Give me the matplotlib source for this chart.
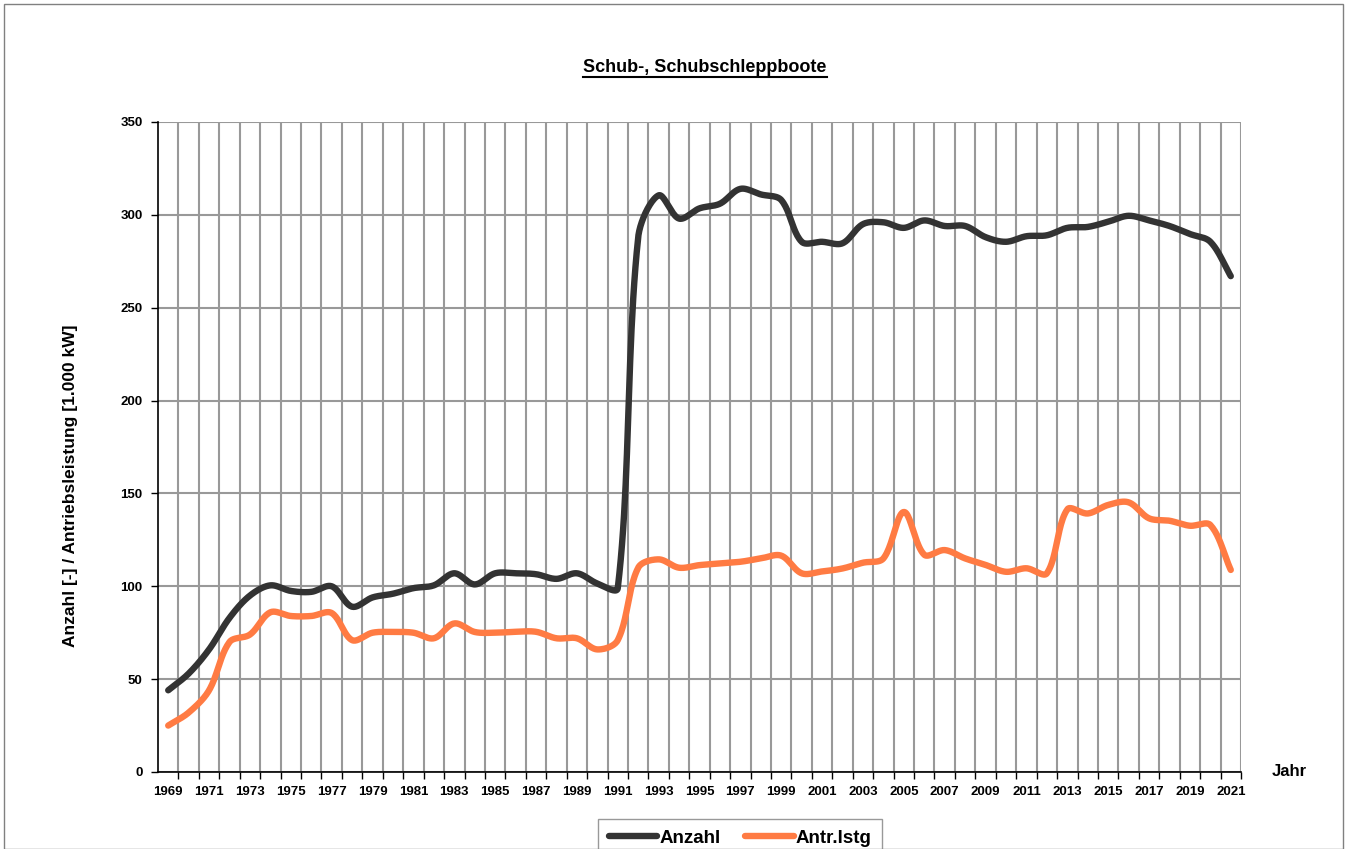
import matplotlib
matplotlib.use('Agg')
import matplotlib.pyplot as plt
from matplotlib.lines import Line2D
from matplotlib.patches import Rectangle
import numpy as np

plt.rcParams['font.family'] = ['Liberation Sans', 'DejaVu Sans']
plt.rcParams['font.weight'] = 'bold'

years = list(range(1969, 2022))
anzahl = [44, 53, 66, 83, 95, 100.5, 97.5, 97, 100, 89, 94, 96, 99, 100.5, 107, 101,
          107, 107, 106.5, 104, 107, 101.5, 99, 288, 310.5, 298, 303.5, 306, 314, 311,
          308, 285.5, 285.5, 284.7, 295, 296, 293, 297, 294, 294, 288, 285.5, 288.5,
          289, 293, 293.5, 296.3, 299.5, 297, 294, 289.7, 285.5, 267]
antr_lstg = [25, 32, 44, 70, 74, 86, 84, 84, 85.6, 71, 75, 75.4, 75, 72, 80, 75.4,
             75, 75.5, 75.5, 72, 72, 66, 71, 110, 114.5, 110, 111.4, 112.3, 113.2, 115,
             116.5, 107, 108, 109.6, 112.7, 115, 140, 117, 119.5, 115, 111.5, 107.8,
             109.7, 107, 141.4, 139.2, 143.8, 145.2, 136.6, 135.3, 132.6, 133, 108.8]

# pixel scale of the axes, used so the smoothing looks like Excel's
XPX = 1083 / 53.0
YPX = 650 / 350.0


def smooth(x, y, n=24):
    # Bezier smoothing, handle lengths weighted by neighbouring segment lengths
    x = np.asarray(x, float)
    y = np.asarray(y, float)
    px = np.concatenate([[x[0]], x, [x[-1]]])
    py = np.concatenate([[y[0]], y, [y[-1]]])
    d = np.hypot(np.diff(px) * XPX, np.diff(py) * YPX)
    t = np.linspace(0, 1, n)
    xs, ys = [], []
    for i in range(1, len(px) - 2):
        d01, d12, d23 = d[i - 1], d[i], d[i + 1]
        f1 = d12 / (d01 + d12) / 3 if d01 + d12 > 0 else 0
        f2 = d12 / (d12 + d23) / 3 if d12 + d23 > 0 else 0
        c1x = px[i] + (px[i + 1] - px[i - 1]) * f1
        c1y = py[i] + (py[i + 1] - py[i - 1]) * f1
        c2x = px[i + 1] - (px[i + 2] - px[i]) * f2
        c2y = py[i + 1] - (py[i + 2] - py[i]) * f2
        a, b, c, e = (1 - t) ** 3, 3 * (1 - t) ** 2 * t, 3 * (1 - t) * t ** 2, t ** 3
        xs.append(a * px[i] + b * c1x + c * c2x + e * px[i + 1])
        ys.append(a * py[i] + b * c1y + c * c2y + e * py[i + 1])
    return np.concatenate(xs), np.concatenate(ys)


fig = plt.figure(figsize=(13.48, 8.49), dpi=100)
ax = fig.add_axes([158 / 1348, 77 / 849, 1083 / 1348, 650 / 849])

sx, sy = smooth(years, anzahl)
ax.plot(sx, sy, color='#333333', lw=4.6, solid_capstyle='round', zorder=3, label='Anzahl')
sx, sy = smooth(years, antr_lstg)
ax.plot(sx, sy, color='#FF7B43', lw=4.6, solid_capstyle='round', zorder=3, label='Antr.lstg')

ax.set_xlim(1968.5, 2021.5)
ax.set_ylim(0, 350)
ax.set_yticks(range(0, 351, 50))
ax.set_xticks(years[::2])
ax.set_xticks([y + 0.5 for y in years], minor=True)
ax.tick_params(axis='x', which='major', length=0, pad=10, labelsize=9.5)
ax.tick_params(axis='x', which='minor', length=5, width=1, color='black')
ax.tick_params(axis='y', length=5, width=1, pad=6, labelsize=9.5)
ax.grid(True, axis='y', color='#999999', lw=1.5, zorder=1)
ax.grid(True, axis='x', which='minor', color='#999999', lw=1.5, zorder=1)
ax.set_axisbelow(True)
ax.spines['top'].set_visible(False)
ax.spines['right'].set_visible(False)
ax.spines['left'].set_linewidth(1.2)
ax.spines['bottom'].set_linewidth(1.2)

ax.set_ylabel('Anzahl [-] / Antriebsleistung [1.000 kW]', fontsize=12.5, fontweight='bold')
ax.yaxis.set_label_coords(-0.074, 0.44)
fig.text(1289 / 1348, 1 - 772 / 849, 'Jahr', fontsize=12, fontweight='bold', ha='center', va='center')

title = fig.text(705 / 1348, 1 - 67 / 849, 'Schub-, Schubschleppboote', fontsize=13,
                 fontweight='bold', ha='center', va='center')

leg = ax.legend(loc='upper center', bbox_to_anchor=(740 / 1348, 1 - 810 / 849),
                bbox_transform=fig.transFigure, ncol=2, frameon=True, fancybox=False,
                fontsize=13.5, handlelength=2.6, handletextpad=0.1, columnspacing=1.3,
                borderpad=0.55)
leg.get_frame().set_edgecolor('#808080')
leg.get_frame().set_linewidth(1)

# outer chart border
fig.add_artist(Rectangle((4 / 1348, 0), 1339 / 1348, 845 / 849, transform=fig.transFigure,
                         fill=False, edgecolor='#808080', lw=1))

# underline title
fig.canvas.draw()
bb = title.get_window_extent()
fig.add_artist(Line2D([bb.x0 / 1348, bb.x1 / 1348], [(bb.y0 - 1) / 849, (bb.y0 - 1) / 849],
                      transform=fig.transFigure, color='black', lw=1.5))

fig.savefig('out.png', dpi=100)
